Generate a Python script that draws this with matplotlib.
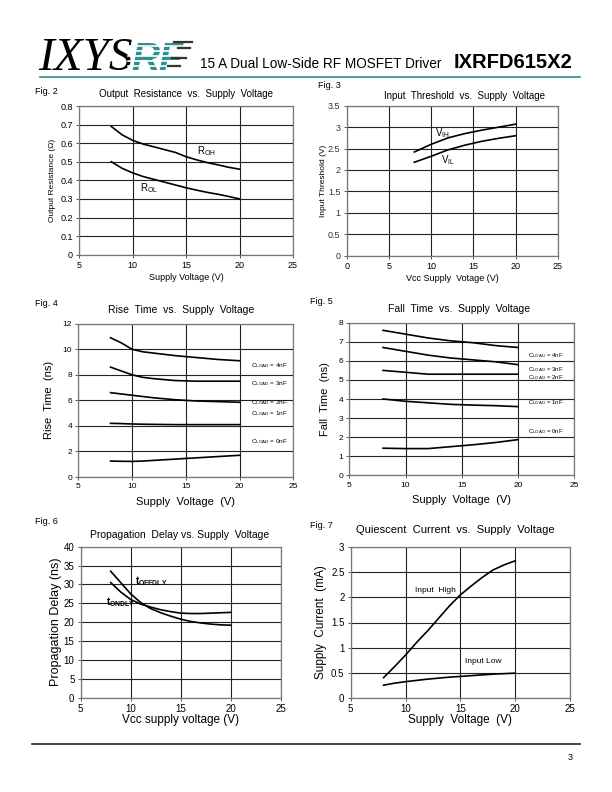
import matplotlib
matplotlib.use("Agg")
import matplotlib.pyplot as plt
import numpy as np

plt.rcParams['font.family'] = ['Liberation Sans', 'DejaVu Sans']

W, H = 612, 792

# Fig 2 - output resistance
v2 = [8, 9, 10, 11, 12, 13, 14, 15, 16, 17, 18, 19, 20]
r_oh = [0.69, 0.645, 0.615, 0.595, 0.58, 0.565, 0.55, 0.527, 0.51, 0.495, 0.483, 0.47, 0.46]
r_ol = [0.50, 0.465, 0.44, 0.42, 0.405, 0.39, 0.375, 0.36, 0.347, 0.335, 0.325, 0.313, 0.30]

# Fig 3 - input threshold
v3 = [8, 10, 12, 14, 16, 18, 20]
v_ih = [2.42, 2.6, 2.75, 2.85, 2.93, 3.0, 3.07]
v_il = [2.18, 2.32, 2.47, 2.58, 2.67, 2.74, 2.8]

# Fig 4 - rise time
v4 = [8, 9, 10, 11, 12, 14, 16, 18, 20]
rise_4nf = [10.9, 10.5, 10.0, 9.8, 9.7, 9.5, 9.35, 9.2, 9.1]
rise_3nf = [8.6, 8.3, 8.0, 7.8, 7.7, 7.55, 7.5, 7.5, 7.5]
rise_2nf = [6.6, 6.5, 6.4, 6.3, 6.2, 6.05, 5.95, 5.9, 5.85]
rise_1nf = [4.2, 4.18, 4.15, 4.13, 4.12, 4.1, 4.1, 4.1, 4.1]
rise_0nf = [1.25, 1.23, 1.22, 1.25, 1.3, 1.4, 1.5, 1.6, 1.7]
rise_lbl = ["4nF", "3nF", "2nF", "1nF", "0nF"]
rise_lbl_y = [8.7, 7.3, 5.85, 4.95, 2.75]

# Fig 5 - fall time
v5 = [8, 10, 12, 14, 16, 18, 20]
fall_4nf = [7.6, 7.4, 7.2, 7.05, 6.95, 6.8, 6.7]
fall_3nf = [6.7, 6.5, 6.3, 6.15, 6.05, 5.95, 5.8]
fall_2nf = [5.5, 5.4, 5.3, 5.3, 5.3, 5.3, 5.3]
fall_1nf = [4.0, 3.88, 3.8, 3.72, 3.68, 3.65, 3.6]
fall_0nf = [1.42, 1.4, 1.4, 1.5, 1.6, 1.72, 1.87]
fall_lbl = ["4nF", "3nF", "2nF", "1nF", "0nF"]
fall_lbl_y = [6.3, 5.55, 5.13, 3.8, 2.28]

# Fig 6 - propagation delay
v6 = [8, 9, 10, 11, 12, 13, 14, 15, 16, 17, 18, 19, 20]
t_off = [33.5, 30.5, 27.5, 25.2, 23.6, 22.5, 21.6, 20.8, 20.2, 19.8, 19.5, 19.3, 19.2]
t_on = [30.5, 28.0, 26.0, 24.8, 24.0, 23.3, 22.8, 22.4, 22.3, 22.3, 22.4, 22.5, 22.6]

# Fig 7 - quiescent current
v7 = [8, 9, 10, 11, 12, 13, 14, 15, 16, 17, 18, 19, 20]
i_high = [0.4, 0.62, 0.85, 1.1, 1.33, 1.58, 1.83, 2.05, 2.23, 2.4, 2.55, 2.65, 2.73]
i_low = [0.25, 0.29, 0.32, 0.345, 0.37, 0.39, 0.41, 0.425, 0.44, 0.455, 0.47, 0.48, 0.49]


def rect(l, t, r, b):
    return [l / W, 1 - b / H, (r - l) / W, (b - t) / H]


def ftext(x, y, s, **kw):
    fig.text(x / W, 1 - y / H, s, **kw)


def fline(x0, x1, y, **kw):
    fig.add_artist(plt.Line2D([x0 / W, x1 / W], [1 - y / H, 1 - y / H], **kw))


def setup(ax, xlim, ylim, xstep, ystep, fs):
    ax.set_xlim(*xlim)
    ax.set_ylim(*ylim)
    ax.set_xticks(range(xlim[0], xlim[1] + 1, xstep))
    ax.set_yticks(np.arange(ylim[0], ylim[1] + 1e-9, ystep))
    ax.grid(True, color='#222222', lw=0.8)
    ax.set_axisbelow(True)
    for s in ax.spines.values():
        s.set_color('#777777')
        s.set_linewidth(0.9)
    ax.tick_params(labelsize=fs, length=2.5, width=0.7, color='#555555', pad=2)


fig = plt.figure(figsize=(W / 100, H / 100), dpi=100)

# header
ftext(38, 70, "IXYS", fontsize=34, family='Liberation Serif', style='italic', va='baseline')
ftext(131, 70, "RF", fontsize=28, family='Liberation Sans', style='italic', weight='bold',
      color='#2f8f8f', va='baseline')
for yy in (46, 51, 56, 61, 66):
    fline(128, 200, yy, color='white', lw=1.2, zorder=5)
for x0, x1, yy in ((174, 192, 42), (178, 190, 48), (172, 186, 58), (168, 180, 66)):
    fline(x0, x1, yy, color='#333333', lw=1.6, zorder=6)
ftext(200, 68, "15 A Dual Low-Side RF MOSFET Driver", fontsize=9.8, va='baseline')
ftext(454, 68, "IXRFD615X2", fontsize=14.5, weight='bold', va='baseline')
fline(40, 580, 77, color='#2f8f8f', lw=1.2)

# footer
fline(32, 580, 744, color='#222222', lw=1.2)
ftext(570, 757, "3", fontsize=6.5, ha='center', va='center')

lw = 1.2

# Fig 2
ax = fig.add_axes(rect(79.3, 106, 293, 254.7))
setup(ax, (5, 25), (0, 0.8), 5, 0.1, 6.5)
ax.set_yticklabels(["0", "0.1", "0.2", "0.3", "0.4", "0.5", "0.6", "0.7", "0.8"])
ax.plot(v2, r_oh, color='black', lw=lw)
ax.plot(v2, r_ol, color='black', lw=lw)
ax.text(16, 0.56, "R$_{\\mathregular{OH}}$", fontsize=7, va='center')
ax.text(10.7, 0.357, "R$_{\\mathregular{OL}}$", fontsize=7, va='center')
ax.set_xlabel("Supply Voltage (V)", fontsize=6.5, labelpad=2)
ax.set_ylabel("Output Resistance (\u03a9)", fontsize=6, labelpad=3)
ftext(35, 92, "Fig. 2", fontsize=6.5, va='center')
ftext(186, 94, "Output  Resistance  vs.  Supply  Voltage", fontsize=7, ha='center', va='center')

# Fig 3
ax = fig.add_axes(rect(346.7, 105.7, 558, 255.7))
setup(ax, (0, 25), (0, 3.5), 5, 0.5, 6.5)
ax.set_yticklabels(["0", "0.5", "1", "1.5", "2", "2.5", "3", "3.5"], color='#333333')
ax.plot(v3, v_ih, color='black', lw=lw)
ax.plot(v3, v_il, color='black', lw=lw)
ax.text(10.4, 2.86, "V$_{\\mathregular{IH}}$", fontsize=7, va='center')
ax.text(11.1, 2.23, "V$_{\\mathregular{IL}}$", fontsize=7, va='center')
ax.set_xlabel("Vcc Supply  Votage (V)", fontsize=6.5, labelpad=2)
ax.set_ylabel("Input Threshold (V)", fontsize=6, labelpad=1)
ftext(318, 86, "Fig. 3", fontsize=6.5, va='center')
ftext(465, 96, "Input  Threshold  vs.  Supply  Voltage", fontsize=7, ha='center', va='center')

# Fig 4
ax = fig.add_axes(rect(78.3, 323.7, 293.3, 477))
setup(ax, (5, 25), (0, 12), 5, 2, 6)
for y in (rise_4nf, rise_3nf, rise_2nf, rise_1nf, rise_0nf):
    ax.plot(v4, y, color='black', lw=lw)
for s, y in zip(rise_lbl, rise_lbl_y):
    ax.text(21.1, y, "C$_{\\mathregular{LOAD}}$ = " + s, fontsize=4.6, va='center')
ax.set_xlabel("Supply  Voltage  (V)", fontsize=8, labelpad=5)
ax.set_ylabel("Rise  Time  (ns)", fontsize=8, labelpad=6)
ftext(35, 303, "Fig. 4", fontsize=6.5, va='center')
ftext(181, 310, "Rise  Time  vs.  Supply  Voltage", fontsize=7.5, ha='center', va='center')

# Fig 5
ax = fig.add_axes(rect(349.3, 322.7, 574.3, 475.3))
setup(ax, (5, 25), (0, 8), 5, 1, 6)
for y in (fall_4nf, fall_3nf, fall_2nf, fall_1nf, fall_0nf):
    ax.plot(v5, y, color='black', lw=lw)
for s, y in zip(fall_lbl, fall_lbl_y):
    ax.text(20.9, y, "C$_{\\mathregular{LOAD}}$ = " + s, fontsize=4.4, va='center')
ax.set_xlabel("Supply  Voltage  (V)", fontsize=8, labelpad=5)
ax.set_ylabel("Fall  Time  (ns)", fontsize=8, labelpad=6)
ftext(310, 302, "Fig. 5", fontsize=6.5, va='center')
ftext(459, 309, "Fall  Time  vs.  Supply  Voltage", fontsize=7.5, ha='center', va='center')

# Fig 6
ax = fig.add_axes(rect(80.7, 546.7, 280.7, 697.7))
setup(ax, (5, 25), (0, 40), 5, 5, 7)
ax.plot(v6, t_off, color='black', lw=lw)
ax.plot(v6, t_on, color='black', lw=lw)
ax.text(10.45, 31.0, "t$_{\\mathregular{OFFDLY}}$", fontsize=7, va='center', weight='bold')
ax.text(7.55, 25.4, "t$_{\\mathregular{ONDLY}}$", fontsize=7, va='center', weight='bold')
ax.set_xlabel("Vcc supply voltage (V)", fontsize=8.5, labelpad=0)
ax.set_ylabel("Propagation Delay (ns)", fontsize=9, labelpad=1)
ftext(35, 522, "Fig. 6", fontsize=6.5, va='center')
ftext(180, 535, "Propagation  Delay vs. Supply  Voltage", fontsize=7.5, ha='center', va='center')

# Fig 7
ax = fig.add_axes(rect(350.7, 547.3, 570, 697.7))
setup(ax, (5, 25), (0, 3), 5, 0.5, 7)
ax.set_yticklabels(["0", "0.5", "1", "1.5", "2", "2.5", "3"])
ax.plot(v7, i_high, color='black', lw=lw)
ax.plot(v7, i_low, color='black', lw=lw)
ax.text(10.9, 2.13, "Input  High", fontsize=6, va='center')
ax.text(15.4, 0.72, "Input Low", fontsize=6, va='center')
ax.set_xlabel("Supply  Voltage  (V)", fontsize=8.5, labelpad=0)
ax.set_ylabel("Supply  Current  (mA)", fontsize=8.5, labelpad=3)
ftext(310, 526, "Fig. 7", fontsize=6.5, va='center')
ftext(455, 530, "Quiescent  Current  vs.  Supply  Voltage", fontsize=8, ha='center', va='center')

fig.savefig("out.png", dpi=100)
